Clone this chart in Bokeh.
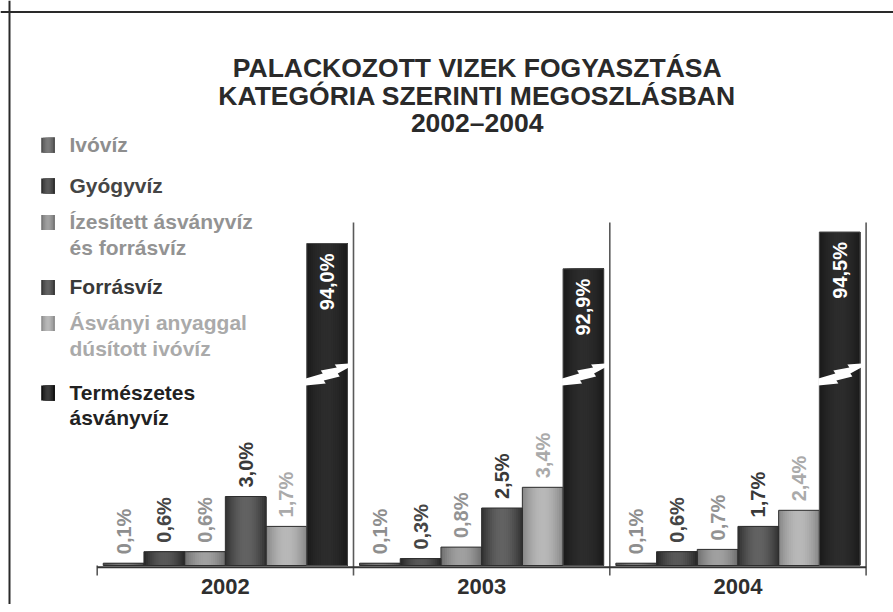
import math
from bokeh.plotting import figure
from bokeh.models import Range1d, Label, Span, BoxAnnotation
from bokeh.embed import file_html
from bokeh.resources import INLINE
from bokeh.core.properties import value

# ---------------- data ----------------
title_lines = ["PALACKOZOTT VIZEK FOGYASZTÁSA",
               "KATEGÓRIA SZERINTI MEGOSZLÁSBAN",
               "2002–2004"]
years = ["2002", "2003", "2004"]
series_names = ["Ivóvíz",
                "Gyógyvíz",
                "Ízesített ásványvíz\nés forrásvíz",
                "Forrásvíz",
                "Ásványi anyaggal\ndúsított ivóvíz",
                "Természetes\násványvíz"]
ivoviz = [0.1, 0.1, 0.1]
gyogyviz = [0.6, 0.3, 0.6]
izesitett = [0.6, 0.8, 0.7]
forrasviz = [3.0, 2.5, 1.7]
asvanyi_dusitott = [1.7, 3.4, 2.4]
termeszetes = [94.0, 92.9, 94.5]
series_values = [ivoviz, gyogyviz, izesitett, forrasviz, asvanyi_dusitott, termeszetes]

BREAK_AT = 10.0      # values above this are drawn on a broken axis
BREAK_SHIFT = 80.0   # part of the axis removed by the break

# ---------------- style ----------------
W, H = 893, 604
PX_PER_GROUP = 256.3
PX_PER_PCT = 23.0
BASELINE_Y = 565          # canvas px (from top) of the bar bottoms
LEFT_X = 96.7             # canvas px of first group edge
BAR_W = 0.1588            # in group units
DPX = 1.0 / PX_PER_GROUP
DPY = 1.0 / PX_PER_PCT
FONT = "Liberation Sans"
bar_gray = [100, 66, 138, 76, 162, 36]
text_colors = ["#8e8e8e", "#454545", "#939393", "#393939", "#aaaaaa", "#222222"]
N_STRIP = 20
BREAK_Y_PX = 189          # height of the break mark above baseline
BOLT = [(-1, -2), (16, 3), (14, 6), (30, 9), (28, 12), (42, 13),
        (42, 9), (31, 3), (33, 0), (17, -4), (19, -7), (-1, -9)]


def gray(level):
    v = int(max(0, min(255, round(level))))
    return "#%02x%02x%02x" % (v, v, v)


def shade(base, t, amp):
    return base + amp * (math.sin(math.pi * t) - 0.55)


def sy(canvas_y):
    return H - canvas_y


x0 = -LEFT_X / PX_PER_GROUP
p = figure(width=W, height=H, output_backend="svg", toolbar_location=None,
           x_range=Range1d(x0, x0 + W / PX_PER_GROUP),
           y_range=Range1d(-(H - BASELINE_Y) / PX_PER_PCT, BASELINE_Y / PX_PER_PCT),
           x_axis_type=None, y_axis_type=None, min_border=0)
p.outline_line_color = None
p.background_fill_color = "white"
p.border_fill_color = "white"

n_groups = len(years)
n_series = len(series_values)
edges = list(range(n_groups + 1))

# group separators and ticks
p.segment(x0=edges[1:], x1=edges[1:], y0=[-10 * DPY] * n_groups, y1=[343 * DPY] * n_groups,
          line_color="#5a5a5a", line_width=1.6)
p.segment(x0=edges[:1], x1=edges[:1], y0=[-10 * DPY], y1=[0], line_color="#5a5a5a", line_width=1.6)

# bars (shaded strips, each strip drawn from its left edge to the bar's right edge)
sl, sr, st, sc = [], [], [], []
ol, orr, ot, oc = [], [], [], []
out_x, out_y, out_t, out_c = [], [], [], []
in_x, in_y, in_t = [], [], []
bolt_xs, bolt_ys = [], []
for s, vals in enumerate(series_values):
    for g, v in enumerate(vals):
        broken = v > BREAK_AT
        top = v - BREAK_SHIFT if broken else v
        xc = g + 0.5 + (s - (n_series - 1) / 2) * BAR_W
        left = xc - BAR_W / 2
        amp = 18 if broken else 50
        for k in range(N_STRIP):
            t = (k + 0.5) / N_STRIP
            sl.append(left + k * BAR_W / N_STRIP)
            sr.append(left + BAR_W)
            st.append(top)
            sc.append(gray(shade(bar_gray[s], t, amp)))
        ol.append(left)
        orr.append(left + BAR_W)
        ot.append(top)
        oc.append("#4a4a4a" if broken else "#2e2e2e")
        label = ("%.1f" % v).replace(".", ",") + "%"
        if broken:
            in_x.append(xc)
            in_y.append(top - 10 * DPY)
            in_t.append(label)
            bolt_xs.append([left + dx * DPX for dx, dy in BOLT])
            bolt_ys.append([BREAK_Y_PX * DPY + dy * DPY for dx, dy in BOLT])
        else:
            out_x.append(xc)
            out_y.append(top + 9 * DPY)
            out_t.append(label)
            out_c.append(text_colors[s])

p.quad(left=sl, right=sr, bottom=0, top=st, fill_color=sc, line_color=None)
p.quad(left=ol, right=orr, bottom=0, top=ot, fill_color=None, line_color=oc, line_width=1)
p.patches(xs=bolt_xs, ys=bolt_ys, fill_color="white", line_color=None)

# baseline
p.segment(x0=[edges[0]], x1=[edges[-1]], y0=[-1.8 * DPY], y1=[-1.8 * DPY],
          line_color="#333333", line_width=2)

# value labels
p.text(x=out_x, y=out_y, text=out_t, text_color=out_c, angle=math.pi / 2,
       text_align="left", text_baseline="middle", text_font=value(FONT),
       text_font_style="bold", text_font_size=value("20px"))
p.text(x=in_x, y=in_y, text=in_t, text_color="white", angle=math.pi / 2,
       text_align="right", text_baseline="middle", text_font=value(FONT),
       text_font_style="bold", text_font_size=value("20px"))

# year labels
p.text(x=[g + 0.5 for g in range(n_groups)], y=[-20.5 * DPY] * n_groups, text=years,
       text_color="#2f2f2f", text_align="center", text_baseline="alphabetic",
       text_font=value(FONT), text_font_style="bold", text_font_size=value("22px"))

# frame lines
p.add_layout(Span(location=9, dimension="height", location_units="screen",
                  line_color="#2a2a2a", line_width=2))
p.add_layout(Span(location=sy(11.5), dimension="width", location_units="screen",
                  line_color="#2a2a2a", line_width=2))

# title
title_baselines = [67.5, 95.5, 122.2]  # canvas px
for line, b in zip(title_lines, title_baselines):
    p.add_layout(Label(x=476.7, y=sy(b), x_units="screen", y_units="screen", text=line,
                       text_align="center", text_baseline="alphabetic", text_font=FONT,
                       text_font_style="bold", text_font_size="26.5px", text_color="#2a2a2a"))

# legend
leg_baselines = [143.7, 184.5, 221, 286, 322, 391.5]  # canvas px, first line
LEG_LINE = 25.5
LEG_TEXT_X = 69
SQ_L, SQ_R = 40.7, 54.3
SQ_TOP, SQ_BOT = 137.3, 152.3   # square extent for the first item (canvas px)
for s, name in enumerate(series_names):
    b = leg_baselines[s]
    for i, line in enumerate(name.split("\n")):
        p.add_layout(Label(x=LEG_TEXT_X, y=sy(b + i * LEG_LINE), x_units="screen", y_units="screen",
                           text=line, text_align="left", text_baseline="alphabetic",
                           text_font=FONT, text_font_style="bold", text_font_size="21px",
                           text_color=text_colors[s]))
    dy = b - leg_baselines[0]
    n_sq = 8
    for k in range(n_sq):
        t = (k + 0.5) / n_sq
        l = SQ_L + k * (SQ_R - SQ_L) / n_sq
        p.add_layout(BoxAnnotation(left=l, right=SQ_R, top=sy(SQ_TOP + dy), bottom=sy(SQ_BOT + dy),
                                   left_units="screen", right_units="screen",
                                   top_units="screen", bottom_units="screen",
                                   fill_color=gray(shade(bar_gray[s], t, 50)), fill_alpha=1.0,
                                   line_color=None))

open("out.html", "w").write(file_html(p, INLINE))
